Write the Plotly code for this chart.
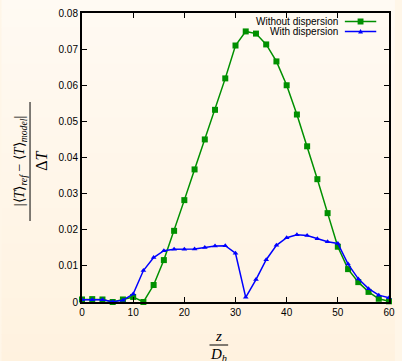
import plotly.graph_objects as go

z_vals = [0, 2, 4, 6, 8, 10, 12, 14, 16, 18, 20, 22, 24, 26, 28, 30, 32, 34, 36, 38, 40,
          42, 44, 46, 48, 50, 52, 54, 56, 58, 60]
without_disp = [0.0007, 0.0008, 0.0007, 0.0000, 0.0007, 0.0014, 0.0000, 0.0047, 0.0116, 0.0197,
                0.0282, 0.0367, 0.0450, 0.0532, 0.0619, 0.0710, 0.0749, 0.0743, 0.0713, 0.0666,
                0.0600, 0.0519, 0.0431, 0.0340, 0.0246, 0.0153, 0.0091, 0.0055, 0.0028, 0.0009, 0.0002]
with_disp = [0.0006, 0.0006, 0.0006, 0.0001, 0.0005, 0.0022, 0.0087, 0.0123, 0.0142, 0.0146,
             0.0146, 0.0147, 0.0151, 0.0155, 0.0156, 0.0135, 0.0013, 0.0062, 0.0117, 0.0157,
             0.0178, 0.0186, 0.0184, 0.0175, 0.0167, 0.0162, 0.0105, 0.0064, 0.0037, 0.0019, 0.0012]
x_ticks = [0, 10, 20, 30, 40, 50, 60]
y_ticks = [0, 0.01, 0.02, 0.03, 0.04, 0.05, 0.06, 0.07, 0.08]
y_tick_text = ["0", "0.01", "0.02", "0.03", "0.04", "0.05", "0.06", "0.07", "0.08"]

GREEN = "#009000"
BLUE = "#0000ff"

W, H = 402, 361
L, R, T, B = 82, 7, 13, 59
PW, PH = W - L - R, H - T - B


def px(x):
    return (x - L) / PW


def py(y):
    return (H - B - y) / PH


fig = go.Figure()
fig.add_trace(go.Scatter(x=z_vals, y=without_disp, mode="lines+markers",
                         line=dict(color=GREEN, width=1.5),
                         marker=dict(symbol="square", size=6, color=GREEN),
                         showlegend=False, cliponaxis=False))
fig.add_trace(go.Scatter(x=z_vals, y=with_disp, mode="lines+markers",
                         line=dict(color=BLUE, width=1.5),
                         marker=dict(symbol="triangle-up", size=5, color=BLUE),
                         showlegend=False, cliponaxis=False))

shapes = []
# vertical gradient background
n = 40
top = (255, 250, 243)
bot = (255, 242, 223)
for i in range(n):
    f = (i + 0.5) / n
    c = tuple(round(top[k] + (bot[k] - top[k]) * f) for k in range(3))
    y0 = py(i * H / n)
    y1 = py((i + 1) * H / n)
    shapes.append(dict(type="rect", xref="paper", yref="paper", x0=px(0), x1=px(W - 1),
                       y0=y1 - 0.003, y1=y0, fillcolor="rgb(%d,%d,%d)" % c,
                       line=dict(width=0), layer="below"))

# fraction bars
shapes.append(dict(type="line", xref="paper", yref="paper", x0=px(29), x1=px(29),
                   y0=py(221), y1=py(102), line=dict(color="black", width=1)))
shapes.append(dict(type="line", xref="paper", yref="paper", x0=px(212), x1=px(231),
                   y0=py(345), y1=py(345), line=dict(color="black", width=1)))

# legend samples
for yy, col in [(21.5, GREEN), (31.5, BLUE)]:
    shapes.append(dict(type="line", xref="paper", yref="paper", x0=px(350), x1=px(382),
                       y0=py(yy), y1=py(yy), line=dict(color=col, width=1.5)))
shapes.append(dict(type="rect", xref="paper", yref="paper", x0=px(363), x1=px(369),
                   y0=py(24.5), y1=py(18.5), fillcolor=GREEN, line=dict(width=0)))
shapes.append(dict(type="path", xref="paper", yref="paper",
                   path="M %f,%f L %f,%f L %f,%f Z" % (px(363.5), py(33.5), px(368.5), py(33.5),
                                                         px(366), py(29)),
                   fillcolor=BLUE, line=dict(width=0)))

serif = "Liberation Serif"
annotations = [
    dict(text="|⟨<i>T</i>⟩<sub><i>ref</i></sub> − ⟨<i>T</i>⟩<sub><i>model</i></sub>|",
         xref="paper", yref="paper", x=px(19), y=py(161), textangle=-90, showarrow=False,
         font=dict(family=serif, size=14, color="black"), xanchor="center", yanchor="middle"),
    dict(text="Δ<i>T</i>", xref="paper", yref="paper", x=px(40), y=py(161), textangle=-90,
         showarrow=False, font=dict(family=serif, size=16, color="black"),
         xanchor="center", yanchor="middle"),
    dict(text="<i>z</i>", xref="paper", yref="paper", x=px(221), y=py(336), showarrow=False,
         font=dict(family=serif, size=15, color="black"), xanchor="center", yanchor="middle"),
    dict(text="<i>D<sub>h</sub></i>", xref="paper", yref="paper", x=px(221), y=py(355),
         showarrow=False, font=dict(family=serif, size=15, color="black"),
         xanchor="center", yanchor="middle"),
    dict(text="Without dispersion", xref="paper", yref="paper", x=px(345), y=py(21.5),
         showarrow=False, font=dict(family="Liberation Sans", size=10, color="black"),
         xanchor="right", yanchor="middle"),
    dict(text="With dispersion", xref="paper", yref="paper", x=px(345), y=py(31.5),
         showarrow=False, font=dict(family="Liberation Sans", size=10, color="black"),
         xanchor="right", yanchor="middle"),
]

axis_common = dict(showline=True, linecolor="black", linewidth=2, mirror="ticks",
                   ticks="inside", ticklen=5, tickwidth=1, tickcolor="black",
                   showgrid=False, zeroline=False,
                   tickfont=dict(family="Liberation Sans", size=10, color="black"))

fig.update_layout(
    width=W, height=H,
    margin=dict(l=L, r=R, t=T, b=B, pad=0),
    paper_bgcolor="#fff6e8", plot_bgcolor="rgba(0,0,0,0)",
    xaxis=dict(range=[0, 60], tickvals=x_ticks, **axis_common),
    yaxis=dict(range=[0, 0.08], tickvals=y_ticks, ticktext=y_tick_text, **axis_common),
    shapes=shapes, annotations=annotations,
)

fig.write_html("out.html", config={"displayModeBar": False})
